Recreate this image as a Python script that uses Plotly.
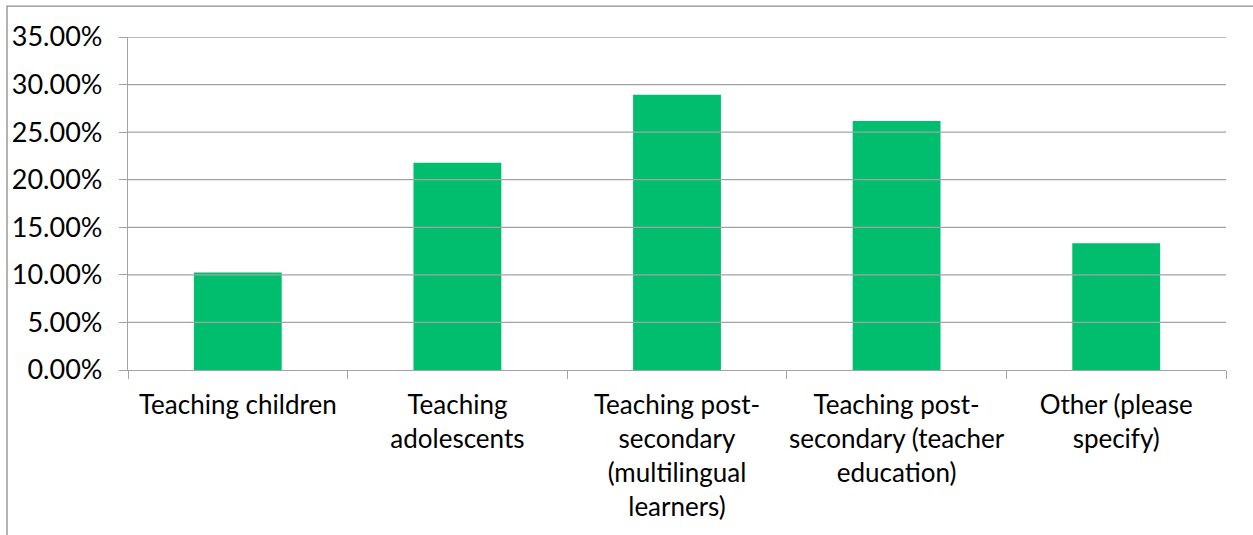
import plotly.graph_objects as go

categories = [
    "Teaching children",
    "Teaching<br>adolescents",
    "Teaching post-<br>secondary<br>(multilingual<br>learners)",
    "Teaching post-<br>secondary (teacher<br>education)",
    "Other (please<br>specify)",
]
values = [0.1026, 0.2179, 0.2892, 0.2617, 0.1332]
tick_vals = [0, 0.05, 0.10, 0.15, 0.20, 0.25, 0.30, 0.35]
tick_text = ["0.00%", "5.00%", "10.00%", "15.00%", "20.00%", "25.00%", "30.00%", "35.00%"]

FONT = "Lato"
GRID = "#A3A3A3"

fig = go.Figure(
    go.Bar(x=categories, y=values, marker=dict(color="#00BE6E", line=dict(width=0)), width=0.4)
)

shapes = [
    dict(type="line", xref="paper", yref="y", x0=0, x1=1, y0=v, y1=v,
         line=dict(color=GRID, width=1.3), layer="above")
    for v in tick_vals[1:]
]
# outer chart frame (left and top edges visible)
shapes.append(dict(type="rect", xref="paper", yref="paper", x0=-0.1102, x1=1.5, y0=-1, y1=1.093,
                   line=dict(color="#8C8C8C", width=1.3), layer="below"))

fig.update_layout(
    width=1253, height=535,
    margin=dict(l=128, r=27, t=37, b=165, autoexpand=False),
    paper_bgcolor="white", plot_bgcolor="white",
    font=dict(family=FONT, size=26, color="#000000"),
    showlegend=False,
    bargap=0.6,
    shapes=shapes,
    xaxis=dict(
        type="category",
        showline=True, linecolor=GRID, linewidth=1.3,
        ticks="outside", ticklen=8, tickcolor=GRID, tickwidth=1.3,
        tickson="boundaries",
        showgrid=False,
        tickangle=0, automargin=False,
        tickfont=dict(family=FONT, size=26),
        ticklabelstandoff=12,
    ),
    yaxis=dict(
        range=[0, 0.35],
        tickvals=tick_vals, ticktext=tick_text,
        showline=True, linecolor=GRID, linewidth=1.3,
        ticks="outside", ticklen=8, tickcolor=GRID, tickwidth=1.3,
        showgrid=False, zeroline=False, automargin=False,
        tickfont=dict(family=FONT, size=27),
        ticklabelstandoff=11,
    ),
)

fig.write_html(
    "out.html",
    config={"displayModeBar": False},
    post_script="document.body.style.margin='0';document.body.style.overflow='hidden';",
)
